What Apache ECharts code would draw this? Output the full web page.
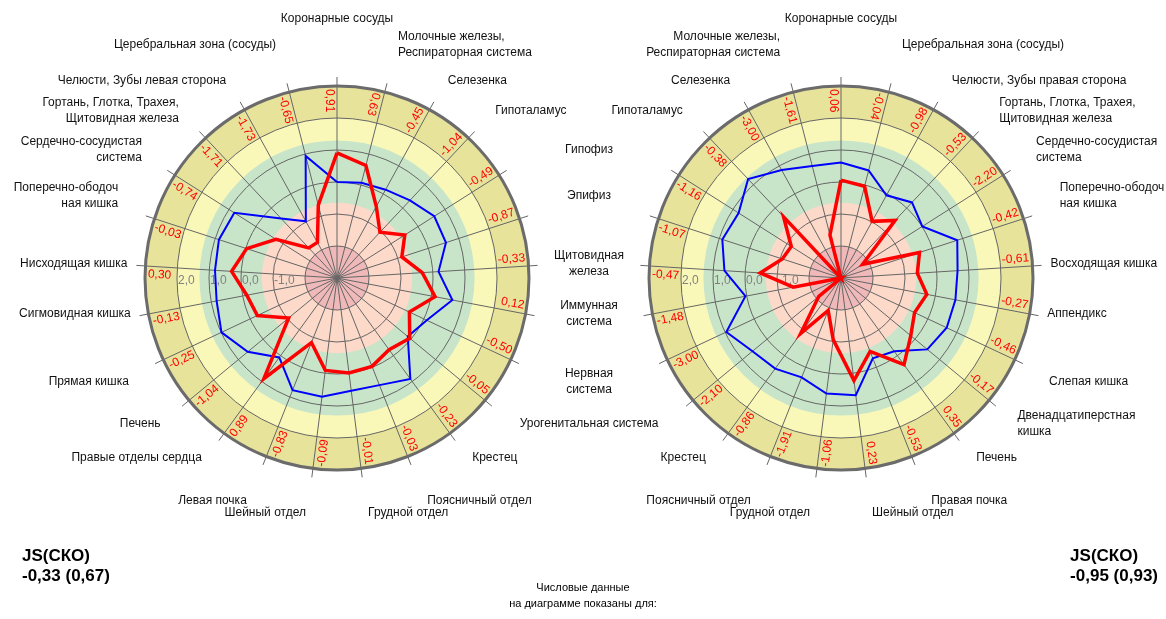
<!DOCTYPE html>
<html><head><meta charset="utf-8">
<script src="https://cdn.jsdelivr.net/npm/echarts@6/dist/echarts.min.js"></script>
<style>html,body{margin:0;padding:0;background:#fff}#c{width:1166px;height:619px}</style>
</head><body><div id="c"></div>
<script>
// ---------- data ----------
const catsLeft = [
  'Коронарные сосуды', 'Молочные железы,\nРеспираторная система', 'Селезенка', 'Гипоталамус',
  'Гипофиз', 'Эпифиз', 'Щитовидная\nжелеза', 'Иммунная\nсистема', 'Нервная\nсистема',
  'Урогенитальная система', 'Крестец', 'Поясничный отдел', 'Грудной отдел', 'Шейный отдел',
  'Левая почка', 'Правые отделы сердца', 'Печень', 'Прямая кишка', 'Сигмовидная кишка',
  'Нисходящая кишка', 'Поперечно-ободоч\nная кишка', 'Сердечно-сосудистая\nсистема',
  'Гортань, Глотка, Трахея,\nЩитовидная железа', 'Челюсти, Зубы левая сторона', 'Церебральная зона (сосуды)'
];
const catsRight = [
  'Коронарные сосуды', 'Церебральная зона (сосуды)', 'Челюсти, Зубы правая сторона',
  'Гортань, Глотка, Трахея,\nЩитовидная железа', 'Сердечно-сосудистая\nсистема', 'Поперечно-ободоч\nная кишка',
  'Восходящая кишка', 'Аппендикс', 'Слепая кишка', 'Двенадцатиперстная\nкишка', 'Печень', 'Правая почка',
  'Шейный отдел', 'Грудной отдел', 'Поясничный отдел', 'Крестец', 'Урогенитальная система',
  'Нервная\nсистема', 'Иммунная\nсистема', 'Щитовидная\nжелеза', 'Эпифиз', 'Гипофиз', 'Гипоталамус',
  'Селезенка', 'Молочные железы,\nРеспираторная система'
];
const redLeft  = [0.91, 0.63, -0.45, -1.04, -0.49, -0.87, -0.33, 0.12, -0.50, -0.05, -0.23, -0.03, -0.01,
                  -0.09, -0.83, 0.89, -1.04, -0.25, -0.13, 0.30, -0.03, -0.74, -1.71, -1.73, -0.65];
const blueLeft = [0.00, 0.07, 0.15, 0.33, 0.60, 0.58, 0.18, 0.67, 0.10, -0.13, 0.90, 0.60, 0.55,
                  0.74, 0.77, 0.07, 0.62, 0.99, 0.83, 0.82, 0.88, 0.80, -0.45, -0.98, 0.94];
const redRight  = [0.06, -0.04, -0.98, -0.53, -2.20, -0.42, -0.61, -0.27, -0.46, -0.17, 0.35, -0.53, 0.23,
                   -1.06, -1.91, -0.86, -2.10, -3.00, -1.48, -0.47, -1.07, -1.16, -0.38, -3.00, -1.61];
const blueRight = [0.61, 0.47, -0.05, 0.24, 0.01, 0.82, 0.65, 0.64, 0.65, 0.50, -0.17, -0.30, 0.69,
                   0.64, 0.34, 0.50, 0.59, 0.96, 0.04, 0.65, 0.90, 0.79, 1.24, 0.85, 0.61];
const radiusTickLabels = [2, 1, 0, -1];
const gridRings = [-2, -1, 0, 1, 2];
const bandEdges = [3, 2, 1.3, -0.65, -2];          // value limits of the coloured zones (outer to inner)
const jsLeft  = ['-0,33', '0,67'];
const jsRight = ['-0,95', '0,93'];
const footer = ['Числовые данные', 'на диаграмме показаны для:'];

// ---------- layout / style ----------
const N = 25;
const R = 192;
const centers = [[337, 278], [841, 278]];
// label distances (px) from the centre, by angular distance from the top spoke (0..12)
const labelRx = [0, 245, 230, 231, 231, 230, 210, 210, 230, 229, 230, 245, 248];
const labelRy = [259, 241, 225, 230, 239, 267, 222, 193, 243, 228, 222, 240, 237];
const bandColors = ['#e7e39b', '#faf8b9', '#c9e5c9', '#fcd9c9', '#efb9b9'];
const FONT = '"Liberation Sans", Arial, sans-serif';
const fmt = v => v.toFixed(2).replace('.', ',');
const fmt1 = v => v.toFixed(1).replace('.', ',');

function bgSeries(pi) {
  return {
    type: 'custom', coordinateSystem: 'polar', polarIndex: pi, z: 1, silent: true,
    data: [[0, 0]],
    renderItem(params, api) {
      const c = api.coord([-3, 0]);
      const rad = v => { const p = api.coord([v, 0]); return Math.hypot(p[0] - c[0], p[1] - c[1]); };
      const ch = [];
      bandEdges.forEach((e, k) => {
        ch.push({ type: 'circle', shape: { cx: c[0], cy: c[1], r: rad(e) }, style: { fill: bandColors[k] } });
      });
      gridRings.forEach(v => {
        ch.push({ type: 'circle', shape: { cx: c[0], cy: c[1], r: rad(v) }, style: { fill: 'none', stroke: '#666', lineWidth: 1 } });
      });
      for (let i = 0; i < N; i++) {
        const p = api.coord([3, i]);
        const dx = p[0] - c[0], dy = p[1] - c[1], L = Math.hypot(dx, dy);
        ch.push({ type: 'line', shape: { x1: c[0], y1: c[1], x2: p[0] + dx / L * 9, y2: p[1] + dy / L * 9 },
          style: { stroke: '#666', lineWidth: 1 } });
      }
      ch.push({ type: 'circle', shape: { cx: c[0], cy: c[1], r: rad(3) }, style: { fill: 'none', stroke: '#6b6b6b', lineWidth: 3 } });
      radiusTickLabels.forEach(v => {
        const p = api.coord([v, N * 0.75]);
        ch.push({ type: 'text', x: p[0] + 1, y: p[1] + 3,
          style: { text: fmt1(v), fill: '#808080', font: '12px ' + FONT, align: 'left', verticalAlign: 'middle' } });
      });
      return { type: 'group', children: ch };
    }
  };
}

function textSeries(pi, cats, vals) {
  return {
    type: 'custom', coordinateSystem: 'polar', polarIndex: pi, z: 6, silent: true,
    data: [[0, 0]],
    renderItem(params, api) {
      const c = api.coord([-3, 0]);
      const ch = [];
      const midX = (centers[0][0] + centers[1][0]) / 2;
      for (let i = 0; i < N; i++) {
        const th = i * 360 / N;
        const p = api.coord([3, i]);
        const dx = p[0] - c[0], dy = p[1] - c[1], L = Math.hypot(dx, dy);
        const ux = dx / L, uy = dy / L;
        // value text in the outer ring
        const outward = th > 20 && th < 180;
        const r = L - 3;
        const tr = th * Math.PI / 180;
        const ax = c[0] + ux * r - Math.cos(tr) * 2;
        const ay = c[1] + uy * r - Math.sin(tr) * 2;
        ch.push({ type: 'text', x: ax, y: ay,
          rotation: (outward ? 90 - th : 270 - th) * Math.PI / 180,
          style: { text: fmt(vals[i]), fill: '#ff0000', font: '12px ' + FONT,
            align: outward ? 'right' : 'left', verticalAlign: outward ? 'bottom' : 'top' } });
        // category labels
        const shared = pi === 0 ? (th > 50 && th < 135) : (th > 225 && th < 310);
        if (pi === 1 && shared) continue;
        const k = Math.min(i, N - i);
        let lx = c[0] + ux * labelRx[k], ly = c[1] + uy * labelRy[k], align;
        if (shared) { lx = midX; align = 'center'; }
        else if (k === 0) align = 'center';
        else align = ux > 0 ? 'left' : 'right';
        ch.push({ type: 'text', x: lx, y: ly,
          style: { text: cats[i], fill: '#111', font: '12px ' + FONT, align: align,
            verticalAlign: 'middle', lineHeight: 16 } });
      }
      return { type: 'group', children: ch };
    }
  };
}

const closed = vals => vals.map((v, i) => [v, i]).concat([[vals[0], N]]);
function lineSeries(pi, vals, color, width, z) {
  return { type: 'line', coordinateSystem: 'polar', polarIndex: pi, data: closed(vals), symbol: 'none',
    silent: true, z: z, lineStyle: { color: color, width: width, join: 'miter' } };
}

const chart = echarts.init(document.getElementById('c'), null, { renderer: 'canvas' });
chart.setOption({
  animation: false,
  backgroundColor: '#ffffff',
  polar: centers.map(c => ({ center: c, radius: R })),
  angleAxis: [0, 1].map(i => ({ polarIndex: i, type: 'value', min: 0, max: N, interval: 1, startAngle: 90,
    clockwise: true, axisLine: { show: false }, axisTick: { show: false }, axisLabel: { show: false },
    splitLine: { show: false } })),
  radiusAxis: [0, 1].map(i => ({ polarIndex: i, type: 'value', min: -3, max: 3, interval: 1,
    axisLine: { show: false }, axisTick: { show: false }, axisLabel: { show: false }, splitLine: { show: false } })),
  series: [
    bgSeries(0), bgSeries(1),
    lineSeries(0, blueLeft, '#0000ff', 2, 3), lineSeries(0, redLeft, '#ff0000', 3.5, 4),
    lineSeries(1, blueRight, '#0000ff', 2, 3), lineSeries(1, redRight, '#ff0000', 3.5, 4),
    textSeries(0, catsLeft, redLeft), textSeries(1, catsRight, redRight)
  ],
  graphic: [
    { type: 'text', left: 22, top: 546, style: { text: 'JS(СКО)\n' + jsLeft[0] + ' (' + jsLeft[1] + ')',
      fill: '#000', font: 'bold 17px ' + FONT, lineHeight: 20, align: 'left' } },
    { type: 'text', right: 8, top: 546, style: { text: 'JS(СКО)\n' + jsRight[0] + ' (' + jsRight[1] + ')',
      fill: '#000', font: 'bold 17px ' + FONT, lineHeight: 20, align: 'right' } },
    { type: 'text', x: 583, y: 596, style: { text: footer[0] + '\n' + footer[1], fill: '#000',
      font: '11px ' + FONT, lineHeight: 16, align: 'center', verticalAlign: 'middle' } }
  ]
});
</script>
</body></html>
